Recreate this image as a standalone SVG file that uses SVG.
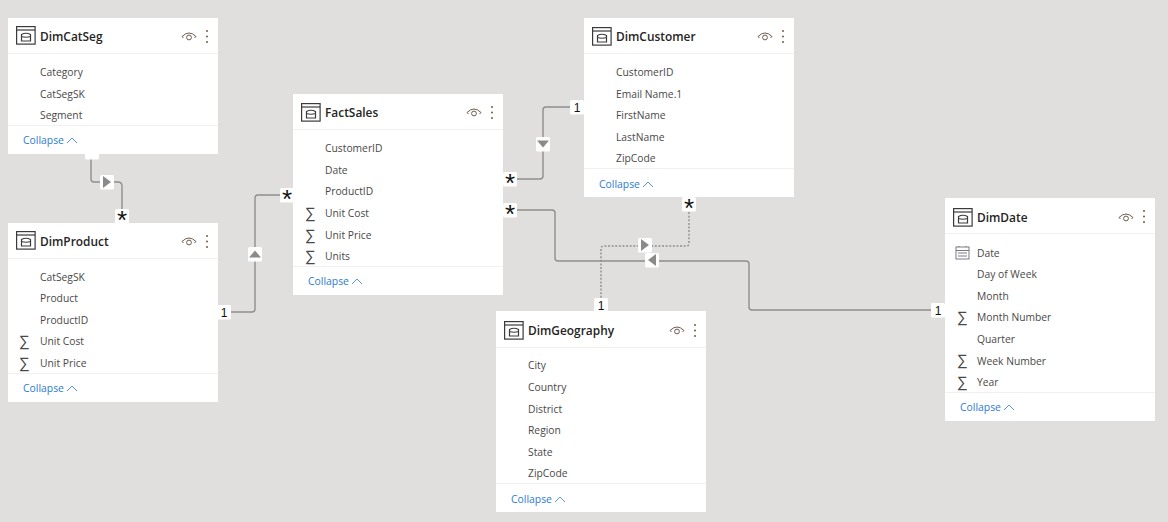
<svg xmlns="http://www.w3.org/2000/svg" width="1168" height="522" viewBox="0 0 1168 522">
<style>
text{font-family:"Open Sans","Noto Sans","Liberation Sans",sans-serif}
.card{fill:#fff}
.div{stroke:#f1f0ef;stroke-width:1}
.title{font-size:11.9px;font-weight:600;fill:#252423}
.f{font-size:10.3px;fill:#4a4847}
.sig{font-size:15px;fill:#4a4847;font-family:"Liberation Sans",sans-serif}
.col{font-size:10.4px;fill:#2b7cd3}
.chev{fill:none;stroke:#2b7cd3;stroke-width:.8}
.ln{fill:none;stroke:#8f8e8d;stroke-width:1.4}
.dot{fill:none;stroke:#8f8e8d;stroke-width:1.4;stroke-dasharray:2 1.6}
.b{fill:#fff}
.tri{fill:#8a8a8a}
.bt{font-size:12px;fill:#111;text-anchor:middle;font-family:"Liberation Sans",sans-serif}
.star{font-size:26px;fill:#111;text-anchor:middle;font-family:"Liberation Sans",sans-serif}
.ic{fill:none;stroke:#3b3a39;stroke-width:1.2}
.eye{fill:none;stroke:#6b5a4d;stroke-width:1}
.kb{fill:#7a5a3c}
</style>
<defs>
<g id="tbl"><rect class="ic" x="0.6" y="0.6" width="18.500" height="17.500"/><path class="ic" d="M1 4H19"/><path class="ic" d="M5.500 8.500q4.500-2.500 9 0v6.500H5.500zM5.500 10.500q4.500 1.500 9 0"/></g>
<g id="eye"><path class="eye" d="M0 5.500q7-7 14 0"/><path class="eye" d="M0 5.500l1.500 1.500M14 5.500l-1.500 1.500"/><circle class="eye" cx="7" cy="6.500" r="2.400"/></g>
<g id="more"><circle class="kb" cx="0" cy="0" r="1"/><circle class="kb" cx="0" cy="5.500" r="1"/><circle class="kb" cx="0" cy="11" r="1"/></g>
<rect id="bd" class="b" x="-7" y="-7" width="14" height="14.500" rx="1.500"/>
</defs>
<rect width="1168" height="522" fill="#e1dfdd"/>
<g id="connectors">
<path class="ln" d="M91 154V179q0 3 3 3H118q4 0 4 4V216"/>
<path class="ln" d="M218 312H252q3 0 3-3V198q0-3 3-3H287"/>
<path class="ln" d="M577 107H546q-3 0-3 3V176q0 3-3 3H510"/>
<path class="ln" d="M510 210H552q3 0 3 3V258q0 3 3 3H746q3 0 3 3V307q0 3 3 3H938"/>
<path class="dot" d="M601 305V249q0-3 3-3H686q3 0 3-3V204"/>
<use href="#bd" x="92" y="152"/>
<g transform="translate(107,182)"><use href="#bd"/><path class="tri" d="M-4-6L4 0L-4 6z"/></g>
<g transform="translate(122,216)"><use href="#bd"/><text class="star" y="13">*</text></g>
<g transform="translate(224,312)"><use href="#bd"/><text class="bt" y="4.500">1</text></g>
<g transform="translate(255,254)"><use href="#bd"/><path class="tri" d="M-6 3.500L0-3.500L6 3.500z"/></g>
<g transform="translate(287,195)"><use href="#bd"/><text class="star" y="13">*</text></g>
<g transform="translate(577,107)"><use href="#bd"/><text class="bt" y="4.500">1</text></g>
<g transform="translate(543,144)"><use href="#bd"/><path class="tri" d="M-6-3.500L6-3.500L0 3.500z"/></g>
<g transform="translate(510,179)"><use href="#bd"/><text class="star" y="13">*</text></g>
<g transform="translate(510,210)"><use href="#bd"/><text class="star" y="13">*</text></g>
<g transform="translate(652,260)"><use href="#bd"/><path class="tri" d="M4-6L-4 0L4 6z"/></g>
<g transform="translate(938,310)"><use href="#bd"/><text class="bt" y="4.500">1</text></g>
<g transform="translate(645,245)"><use href="#bd"/><path class="tri" d="M-4-6L4 0L-4 6z"/></g>
<g transform="translate(601,305)"><use href="#bd"/><text class="bt" y="4.500">1</text></g>
<g transform="translate(689,204)"><use href="#bd"/><text class="star" y="13">*</text></g>
</g>
<g id="DimCatSeg" transform="translate(8,18)">
<rect class="card" width="210" height="136"/><path class="div" d="M0 35.500H210M0 107.500H210"/>
<use href="#tbl" x="8" y="8"/><text class="title" x="32" y="23">DimCatSeg</text>
<use href="#eye" x="174" y="13"/><use href="#more" x="199" y="13"/>
<text class="f" x="32" y="58">Category</text><text class="f" x="32" y="79.500">CatSegSK</text><text class="f" x="32" y="101">Segment</text>
<text class="col" x="15" y="126">Collapse</text><path class="chev" d="M59 125l5-5 5 5"/>
</g>
<g id="DimProduct" transform="translate(8,223)">
<rect class="card" width="210" height="179"/><path class="div" d="M0 35.500H210M0 150.500H210"/>
<use href="#tbl" x="8" y="8"/><text class="title" x="32" y="23">DimProduct</text>
<use href="#eye" x="174" y="13"/><use href="#more" x="199" y="13"/>
<text class="f" x="32" y="58">CatSegSK</text><text class="f" x="32" y="79">Product</text><text class="f" x="32" y="101">ProductID</text>
<text class="sig" x="11" y="123">∑</text><text class="f" x="32" y="122">Unit Cost</text>
<text class="sig" x="11" y="145">∑</text><text class="f" x="32" y="144">Unit Price</text>
<text class="col" x="15" y="169">Collapse</text><path class="chev" d="M59 168l5-5 5 5"/>
</g>
<g id="FactSales" transform="translate(293,94)">
<rect class="card" width="210" height="201" rx="1"/><path class="div" d="M0 35.500H210M0 172.500H210"/>
<use href="#tbl" x="8" y="9"/><text class="title" x="32" y="23">FactSales</text>
<use href="#eye" x="174" y="13"/><use href="#more" x="199" y="13"/>
<text class="f" x="32" y="58">CustomerID</text><text class="f" x="32" y="80">Date</text><text class="f" x="32" y="101">ProductID</text>
<text class="sig" x="12" y="124">∑</text><text class="f" x="32" y="123">Unit Cost</text>
<text class="sig" x="12" y="146">∑</text><text class="f" x="32" y="145">Unit Price</text>
<text class="sig" x="12" y="167">∑</text><text class="f" x="32" y="166">Units</text>
<text class="col" x="15" y="191">Collapse</text><path class="chev" d="M59 190l5-5 5 5"/>
</g>
<g id="DimCustomer" transform="translate(584,18)">
<rect class="card" width="210" height="179"/><path class="div" d="M0 35.500H210M0 150.500H210"/>
<use href="#tbl" x="8" y="9"/><text class="title" x="32" y="23">DimCustomer</text>
<use href="#eye" x="174" y="13"/><use href="#more" x="199" y="13"/>
<text class="f" x="32" y="58">CustomerID</text><text class="f" x="32" y="80">Email Name.1</text><text class="f" x="32" y="101">FirstName</text><text class="f" x="32" y="123">LastName</text><text class="f" x="32" y="144">ZipCode</text>
<text class="col" x="15" y="170">Collapse</text><path class="chev" d="M59 169l5-5 5 5"/>
</g>
<g id="DimDate" transform="translate(945,198)">
<rect class="card" width="210" height="223" rx="1"/><path class="div" d="M0 35.500H210M0 194.500H210"/>
<use href="#tbl" x="8" y="10"/><text class="title" x="32" y="24">DimDate</text>
<use href="#eye" x="174" y="14"/><use href="#more" x="199" y="13"/>
<g fill="none" stroke="#6b6a78" stroke-width=".9"><rect x="11" y="49" width="13" height="12"/><path d="M11 52.500H24M14 49v-1M21 49v-1M13 55H22M13 58H22" /></g>
<text class="f" x="32" y="59">Date</text><text class="f" x="32" y="80">Day of Week</text><text class="f" x="32" y="102">Month</text>
<text class="sig" x="12" y="124">∑</text><text class="f" x="32" y="123">Month Number</text>
<text class="f" x="32" y="145">Quarter</text>
<text class="sig" x="12" y="167">∑</text><text class="f" x="32" y="167">Week Number</text>
<text class="sig" x="12" y="189">∑</text><text class="f" x="32" y="188">Year</text>
<text class="col" x="15" y="213">Collapse</text><path class="chev" d="M59 212l5-5 5 5"/>
</g>
<g id="DimGeography" transform="translate(496,311)">
<rect class="card" width="210" height="201"/><path class="div" d="M0 36.500H210M0 172.500H210"/>
<use href="#tbl" x="8" y="10"/><text class="title" x="32" y="24">DimGeography</text>
<use href="#eye" x="174" y="14"/><use href="#more" x="199" y="14"/>
<text class="f" x="32" y="58">City</text><text class="f" x="32" y="80">Country</text><text class="f" x="32" y="102">District</text><text class="f" x="32" y="123">Region</text><text class="f" x="32" y="145">State</text><text class="f" x="32" y="166">ZipCode</text>
<text class="col" x="15" y="192">Collapse</text><path class="chev" d="M59 191l5-5 5 5"/>
</g>
</svg>
